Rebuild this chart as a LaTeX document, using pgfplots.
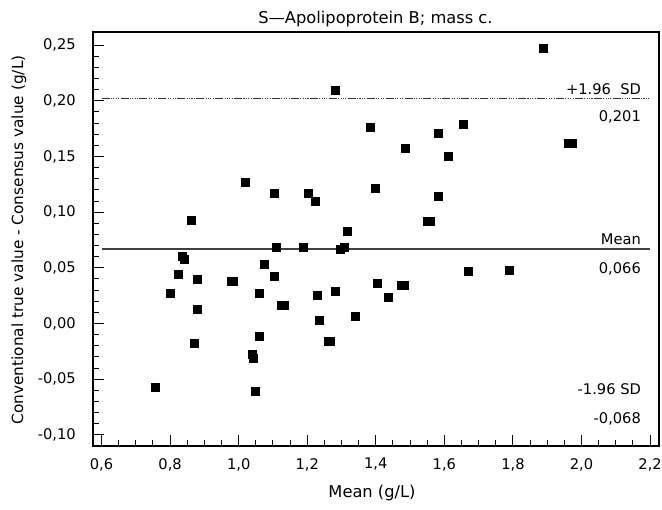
\documentclass[border=0pt]{standalone}
\usepackage{fontspec}
\setmainfont{DejaVu Sans}
\usepackage{pgfplots}
\pgfplotsset{compat=1.18}
\begin{document}
\begin{tikzpicture}[font=\fontsize{11}{13}\selectfont]
\path[use as bounding box] (0,0) rectangle (496.5pt,382.5pt);
\begin{axis}[
  at={(69.75pt,48pt)}, anchor=south west,
  scale only axis, width=424.5pt, height=310.5pt,
  xmin=0.575, xmax=2.226, ymin=-0.1099, ymax=0.2617,
  xtick={0.6,0.8,...,2.21}, ytick={-0.10,-0.05,...,0.26},
  minor x tick num=3, minor y tick num=4,
  xtick pos=bottom, ytick pos=left, tick align=inside,
  major tick length=8pt, minor tick length=4.5pt,
  every tick/.style={black, line width=0.75pt},
  axis line style={line width=1pt},
  /pgf/number format/assume math mode=true,
  xticklabel style={/pgf/number format/use comma, /pgf/number format/fixed, /pgf/number format/fixed zerofill, /pgf/number format/precision=1, inner sep=0pt, yshift=-9pt},
  yticklabel style={/pgf/number format/use comma, /pgf/number format/fixed, /pgf/number format/fixed zerofill, /pgf/number format/precision=2, inner sep=0pt, xshift=-12.75pt},
  scaled ticks=false,
  clip=false,
]
\addplot[only marks, mark=square*, mark size=3pt, black] table {
x y
0.756 -0.057
0.801 0.027
0.824 0.0445
0.835 0.060
0.840 0.058
0.862 0.093
0.869 -0.0174
0.880 0.0394
0.880 0.0125
0.977 0.038
0.985 0.038
1.020 0.127
1.040 -0.028
1.042 -0.031
1.048 -0.061
1.059 0.027
1.059 -0.011
1.076 0.053
1.103 0.0427
1.105 0.117
1.109 0.0685
1.125 0.016
1.132 0.016
1.187 0.0685
1.204 0.117
1.222 0.110
1.228 0.0257
1.234 0.003
1.260 -0.016
1.266 -0.016
1.282 0.209
1.283 0.029
1.295 0.067
1.308 0.0685
1.317 0.0825
1.340 0.0065
1.384 0.176
1.399 0.121
1.404 0.036
1.436 0.024
1.474 0.034
1.484 0.034
1.486 0.157
1.550 0.092
1.560 0.092
1.582 0.171
1.582 0.114
1.610 0.150
1.654 0.179
1.671 0.0466
1.790 0.048
1.889 0.247
1.960 0.162
1.972 0.162
};
\addplot[line width=1.2pt, color=black!75] coordinates {(0.6,0.067) (2.2,0.067)};
\addplot[line width=1pt, color=black!80, dash pattern=on 6pt off 1pt on 0.8pt off 1pt on 0.8pt off 1pt on 0.8pt off 1pt on 0.8pt off 1pt] coordinates {(0.6,0.202) (2.2,0.202)};
\node[anchor=east, inner sep=0pt] at (axis cs:2.174,0.2106) {+1.96\ \ SD};
\node[anchor=east, inner sep=0pt] at (axis cs:2.174,0.1859) {0,201};
\node[anchor=east, inner sep=0pt] at (axis cs:2.174,0.0759) {Mean};
\node[anchor=east, inner sep=0pt] at (axis cs:2.174,0.049) {0,066};
\node[anchor=east, inner sep=0pt] at (axis cs:2.174,-0.0587) {-1.96 SD};
\node[anchor=east, inner sep=0pt] at (axis cs:2.174,-0.0852) {-0,068};
\end{axis}
\node[font=\fontsize{12.2}{14}\selectfont] at (281.6pt,368pt) {S—Apolipoprotein B; mass c.};
\node[rotate=90, font=\fontsize{11.5}{13}\selectfont] at (14.25pt,202.5pt) {Conventional true value - Consensus value (g/L)};
\node[font=\fontsize{12.2}{14}\selectfont] at (279pt,13pt) {Mean (g/L)};
\end{tikzpicture}
\end{document}
